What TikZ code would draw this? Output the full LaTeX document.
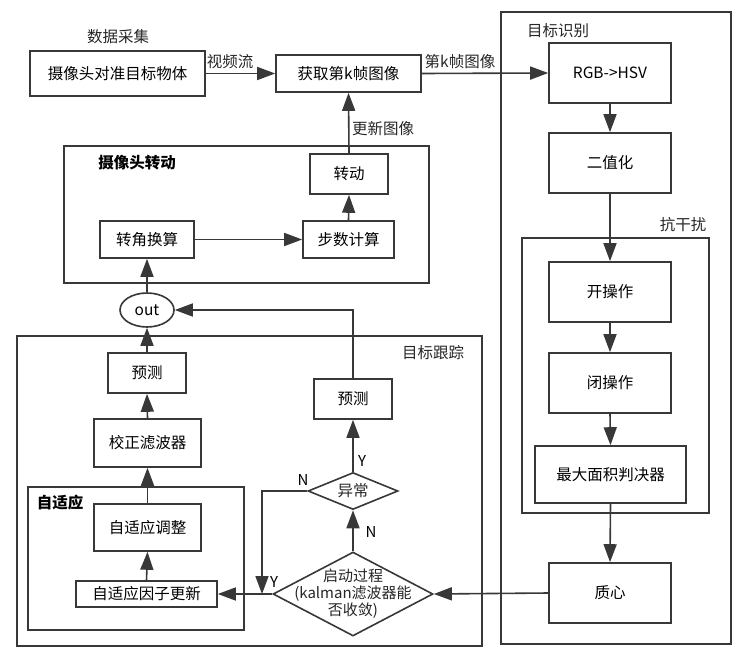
\documentclass[tikz,border=0pt]{standalone}
\usepackage{fontspec}
\setmainfont{Noto Sans CJK SC}
\usetikzlibrary{arrows.meta,shapes.geometric}
\definecolor{lc}{HTML}{383838}
\tikzset{
  ln/.style={draw=lc, line width=1.6pt},
  box/.style={ln, fill=white, rectangle, inner sep=0pt, font=\fontsize{15.5}{18}\selectfont},
  grp/.style={ln},
  arr/.style={ln, -{Triangle[length=18pt,width=13pt]}},
  lab/.style={inner sep=0pt, font=\fontsize{15.5}{18}\selectfont, text=black!85},
  blab/.style={inner sep=0pt, font=\fontsize{15.5}{18}\selectfont\bfseries},
  yn/.style={inner sep=0pt, font=\fontsize{15}{18}\selectfont},
  dia/.style={ln, fill=white, diamond, inner sep=0pt},
}
\begin{document}
\begin{tikzpicture}[x=1pt,y=-1pt]
\useasboundingbox (0,0) rectangle (746,653);
% groups
\draw[grp] (501,12) rectangle (731,644);
\draw[grp] (522,238) rectangle (709,513);
\draw[grp] (64,146) rectangle (429,283);
\draw[grp] (17,336) rectangle (482,646);
\draw[grp] (28,487) rectangle (244,630);
% group labels
\node[lab] (lCollect) at (118,37) {数据采集};
\node[lab] (lRec) at (558,31) {目标识别};
\node[lab] (lAnti) at (683,225) {抗干扰};
\node[blab] (lCam) at (137,163) {摄像头转动};
\node[lab] (lTrack) at (433,353) {目标跟踪};
\node[blab] (lAd) at (60,503) {自适应};
% nodes
\node[box, minimum width=175pt, minimum height=45pt] (cam) at (117.5,73.5) {摄像头对准目标物体};
\node[box, minimum width=145pt, minimum height=37pt] (get) at (348.5,73.5) {获取第k帧图像};
\node[box, minimum width=122pt, minimum height=60pt] (rgb) at (610,73) {RGB->HSV};
\node[box, minimum width=122pt, minimum height=60pt] (bin) at (610,163) {二值化};
\node[box, minimum width=122pt, minimum height=60pt] (open) at (610,292) {开操作};
\node[box, minimum width=122pt, minimum height=60pt] (close) at (610,383) {闭操作};
\node[box, minimum width=151pt, minimum height=57pt] (maxa) at (610.5,474.5) {最大面积判决器};
\node[box, minimum width=122pt, minimum height=60pt] (cent) at (610,593) {质心};
\node[box, minimum width=78pt, minimum height=40pt] (rot) at (349,174) {转动};
\node[box, minimum width=94pt, minimum height=37pt] (ang) at (147,239.5) {转角换算};
\node[box, minimum width=91pt, minimum height=37pt] (stepc) at (348.5,239.5) {步数计算};
\node[box, ellipse, minimum width=54pt, minimum height=34pt] (out) at (147,310) {out};
\node[box, minimum width=78pt, minimum height=40pt] (predL) at (147,373) {预测};
\node[box, minimum width=107pt, minimum height=48pt] (corr) at (147.5,443) {校正滤波器};
\node[box, minimum width=107pt, minimum height=47pt] (adj) at (147.5,527.5) {自适应调整};
\node[box, minimum width=141pt, minimum height=26pt] (fac) at (146.5,594) {自适应因子更新};
\node[box, minimum width=78pt, minimum height=40pt] (predR) at (353,399) {预测};
\node[dia, minimum width=90pt, minimum height=37pt] (abn) at (353,491) {};
\node[lab] (abnT) at (abn.center) {异常};
\node[dia, minimum width=160pt, minimum height=84pt] (start) at (353,594) {};
\node[lab, align=center, font=\fontsize{15}{17}\selectfont] (startT) at (353,594) {启动过程\\(kalman滤波器能\\否收敛)};
\coordinate (j) at (262,594);
% connectors
\draw[arr] (cam.east) -- (get.west);
\node[lab] (lVid) at (230,62) {视频流};
\draw[arr] (get.east) -- (rgb.west);
\node[lab] (lK) at (460,62) {第k帧图像};
\draw[arr] (rgb.south) -- (bin.north);
\draw[arr] (bin.south) -- (open.north);
\draw[arr] (open.south) -- (close.north);
\draw[arr] (close.south) -- (maxa.north);
\draw[arr] (maxa.south) -- (cent.north);
\draw[arr] (cent.west) -- (start.east);
\draw[arr] (start.west) -- (fac.east);
\draw[arr] (start.north) -- (abn.south);
\node[yn] (lN1) at (371,532) {N};
\draw[arr] (abn.north) -- (predR.south);
\node[yn] (lY1) at (362,461) {Y};
\draw[arr] (abn.west) -| (j);
\node[yn] (lN2) at (303,480) {N};
\node[yn] (lY2) at (274,582) {Y};
\draw[arr] (predR.north) |- (out.east);
\draw[arr] (predL.north) -- (out.south);
\draw[arr] (corr.north) -- (predL.south);
\draw[arr] (adj.north) -- (corr.south);
\draw[arr] (fac.north) -- (adj.south);
\draw[arr] (out.north) -- (ang.south);
\draw[arr] (ang.east) -- (stepc.west);
\draw[arr] (stepc.north) -- (rot.south);
\draw[arr] (rot.north) -- (get.south);
\node[lab] (lUpd) at (383,129) {更新图像};
\end{tikzpicture}
\end{document}
